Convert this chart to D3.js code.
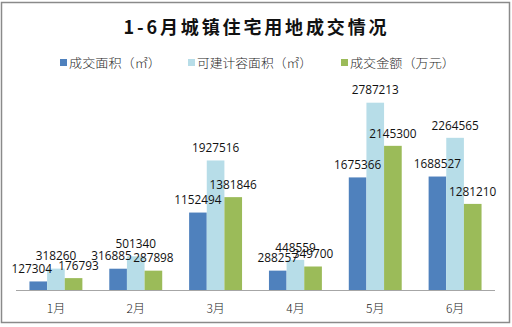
<!DOCTYPE html>
<html><head><meta charset="utf-8">
<script src="https://cdn.jsdelivr.net/npm/d3@7"></script>
<style>html,body{margin:0;padding:0;background:#fff;}svg{display:block;}</style>
</head><body>
<svg id="c" width="512" height="327"></svg>
<script>
const months = ["1月","2月","3月","4月","5月","6月"];
const seriesNames = ["成交面积（㎡）","可建计容面积（㎡）","成交金额（万元）"];
const dealArea = [127304, 316885, 1152494, 288257, 1675366, 1688527];
const buildArea = [318260, 501340, 1927516, 448559, 2787213, 2264565];
const dealAmount = [176793, 287898, 1381846, 349700, 2145300, 1281210];
const yMax = 3000000;
const title = "1-6月城镇住宅用地成交情况";

const colors = ["#4F81BD", "#B7DDE8", "#9BBB59"];
const seriesValues = [dealArea, buildArea, dealAmount];
// label nudges (Excel-style manual offsets to reduce overlap), px
const labelNudge = {"0-0": -6.5, "0-2": 5, "1-0": -6.5};

const svg = d3.select("#c");
svg.append("rect").attr("x",1.5).attr("y",2.5).attr("width",508).attr("height",320)
  .attr("fill","#fff").attr("stroke","#8a8a8a").attr("stroke-width",1.5);

svg.append("text").text(title)
  .attr("x",255).attr("y",34).attr("text-anchor","middle")
  .attr("font-family","'Noto Sans CJK SC'").attr("font-weight","bold")
  .attr("font-size",18).attr("fill","#111")
  .attr("textLength",263).attr("lengthAdjust","spacing");

// legend
const legendX = [60, 188, 341];
const legendW = [92, 115, 105];
seriesNames.forEach((n,i)=>{
  svg.append("rect").attr("x",legendX[i]).attr("y",59).attr("width",7).attr("height",7).attr("fill",colors[i]);
  svg.append("text").text(n).attr("x",legendX[i]+9).attr("y",68)
    .attr("font-family","'Noto Sans CJK SC'").attr("font-weight",300).attr("font-size",12.5).attr("fill","#2a2a2a")
    .attr("textLength",legendW[i]).attr("lengthAdjust","spacingAndGlyphs");
});

const x0 = d3.scaleBand().domain(months).range([16,495]).paddingInner(0.337).paddingOuter(0.1685);
const x1 = d3.scaleBand().domain([0,1,2]).range([0,x0.bandwidth()]);
const y = d3.scaleLinear().domain([0,yMax]).range([290,88.4]);

const g = svg.append("g");
months.forEach((m,mi)=>{
  seriesValues.forEach((vals,si)=>{
    const v = vals[mi];
    const bx = x0(m)+x1(si);
    g.append("rect").attr("x",bx).attr("y",y(v)).attr("width",x1.bandwidth()).attr("height",y(0)-y(v))
      .attr("fill",colors[si]);
  });
});
// axis line
svg.append("line").attr("x1",16).attr("x2",495).attr("y1",290.5).attr("y2",290.5)
  .attr("stroke","#a6a6a6").attr("stroke-width",1.2);
// category labels
const xAxis = d3.axisBottom(x0).tickSize(0).tickPadding(0);
const ax = svg.append("g").attr("transform","translate(0,290)").call(xAxis);
ax.select(".domain").remove();
ax.selectAll("text").attr("y",23).attr("dy",null)
  .attr("font-family","'Noto Sans CJK SC'").attr("font-weight",300).attr("font-size",12).attr("fill","#222");

// data labels
months.forEach((m,mi)=>{
  seriesValues.forEach((vals,si)=>{
    const v = vals[mi];
    const cx = x0(m)+x1(si)+x1.bandwidth()/2 + (labelNudge[mi+"-"+si]||0);
    svg.append("text").text(v).attr("x",cx).attr("y",y(v)-8.3).attr("text-anchor","middle")
      .attr("font-family","'Open Sans'").attr("font-size",11.8).attr("fill","#111");
  });
});
</script>
</body></html>
